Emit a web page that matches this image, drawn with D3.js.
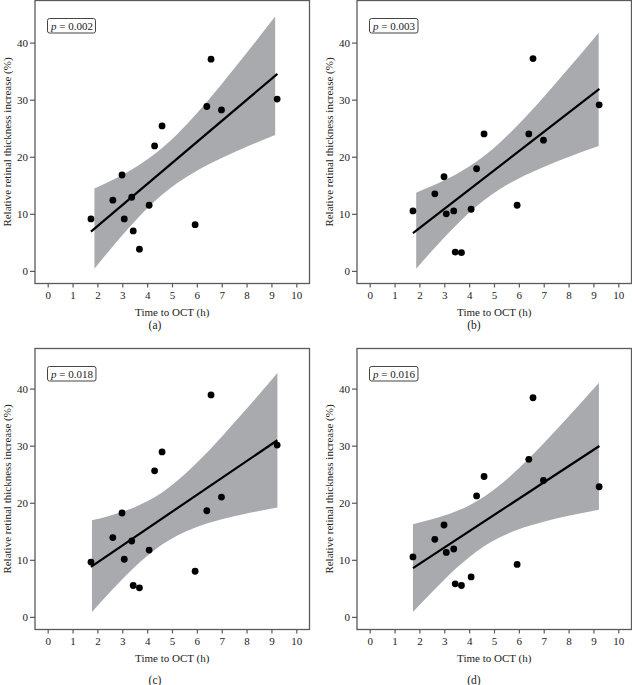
<!DOCTYPE html>
<html>
<head>
<meta charset="utf-8">
<script src="https://cdn.jsdelivr.net/npm/d3@7"></script>
<style>
  html, body { margin: 0; padding: 0; background: #fff; }
  svg { display: block; }
  text { font-family: "Liberation Serif", "Times New Roman", serif; fill: #222; }
</style>
</head>
<body>
<svg id="chart" width="632" height="685"></svg>
<script>
// ---- data ----
const timeToOCT = [1.74, 2.62, 2.99, 3.08, 3.38, 3.44, 3.69, 4.08, 4.30, 4.60, 5.93, 6.40, 6.57, 6.99, 9.23];
const increaseA = [9.1, 12.4, 16.8, 9.1, 12.9, 7.0, 3.8, 11.5, 21.9, 25.4, 8.1, 28.8, 37.1, 28.2, 30.1];
const increaseB = [10.5, 13.5, 16.5, 10.0, 10.5, 3.3, 3.2, 10.8, 17.9, 24.0, 11.5, 24.0, 37.2, 22.9, 29.1];
const increaseC = [9.6, 13.9, 18.2, 10.1, 13.3, 5.5, 5.1, 11.7, 25.6, 28.9, 8.0, 18.6, 38.9, 21.0, 30.1];
const increaseD = [10.5, 13.6, 16.1, 11.3, 11.9, 5.8, 5.5, 7.0, 21.2, 24.6, 9.2, 27.6, 38.4, 23.9, 22.8];

// fitted line end points (x, then y per panel)
const fitX = [1.74, 9.24];
const fitA = [6.88, 34.53];
const fitB = [6.61, 31.90];
const fitC = [8.78, 30.95];
const fitD = [8.55, 29.95];

// confidence band outline
const bandXA = [1.88, 2.5, 3, 3.5, 4, 4.6, 5.2, 6, 7, 8, 9.15];
const bandUpA = [14.42, 15.70, 16.82, 18.07, 19.50, 21.52, 23.92, 27.62, 32.76, 38.17, 44.57];
const bandLoA = [0.38, 3.68, 6.24, 8.67, 10.93, 13.33, 15.35, 17.55, 19.79, 21.74, 23.82];

const bandXB = [1.87, 2.5, 3, 3.5, 4, 4.6, 5.2, 6, 7, 8, 9.21];
const bandUpB = [13.71, 14.86, 15.87, 16.99, 18.29, 20.13, 22.33, 25.74, 30.49, 35.50, 41.73];
const bandLoB = [0.39, 3.49, 5.85, 8.10, 10.18, 12.38, 14.23, 16.21, 18.21, 19.95, 21.87];

const bandXC = [1.78, 2.5, 3, 3.5, 4, 4.6, 5.2, 6, 7, 8, 9.24];
const bandUpC = [16.93, 17.74, 18.42, 19.23, 20.25, 21.81, 23.79, 27.00, 31.57, 36.46, 42.73];
const bandLoC = [0.87, 4.32, 6.60, 8.74, 10.68, 12.67, 14.23, 15.75, 17.09, 18.11, 19.17];

const bandXD = [1.74, 2.5, 3, 3.5, 4, 4.6, 5.2, 6, 7, 8, 9.22];
const bandUpD = [16.24, 17.09, 17.75, 18.55, 19.54, 21.05, 22.96, 26.04, 30.43, 35.12, 41.03];
const bandLoD = [0.86, 4.34, 6.53, 8.59, 10.46, 12.37, 13.88, 15.37, 16.69, 17.71, 18.76];

const pValues = ["0.002", "0.003", "0.018", "0.016"];
const captions = ["(a)", "(b)", "(c)", "(d)"];
const xTicks = [0, 1, 2, 3, 4, 5, 6, 7, 8, 9, 10];
const yTicks = [0, 10, 20, 30, 40];
const xTitle = "Time to OCT (h)";
const yTitle = "Relative retinal thickness increase (%)";

// ---- layout ----
const colLeft = [35, 357];
const frameW = 274.5;
const rowTop = [0.5, 348.5];
const rowBottom = [283.5, 629.5];
const captionY = [329, 684];
const colCenter = [155, 474];

const panels = [
  {y: increaseA, fit: fitA, bx: bandXA, up: bandUpA, lo: bandLoA},
  {y: increaseB, fit: fitB, bx: bandXB, up: bandUpB, lo: bandLoB},
  {y: increaseC, fit: fitC, bx: bandXC, up: bandUpC, lo: bandLoC},
  {y: increaseD, fit: fitD, bx: bandXD, up: bandUpD, lo: bandLoD}
];

const svg = d3.select("#chart");
const frameColor = "#5a5a5a";

panels.forEach((p, i) => {
  const col = i % 2, row = Math.floor(i / 2);
  const L = colLeft[col], R = L + frameW;
  const T = rowTop[row], B = rowBottom[row];

  const x = d3.scaleLinear().domain([0, 10]).range([L + 12.7, L + 261.3]);
  const y = d3.scaleLinear().domain([0, 40]).range([B - 12.6, B - 240.9]);

  const g = svg.append("g");

  // confidence band
  const bandData = p.bx.map((bx, k) => ({x: bx, lo: p.lo[k], up: p.up[k]}));
  g.append("path")
    .datum(bandData)
    .attr("d", d3.area()
      .x(d => x(d.x))
      .y0(d => y(d.lo))
      .y1(d => y(d.up))
      .curve(d3.curveMonotoneX))
    .attr("fill", "#a8aaad");

  // regression line
  g.append("path")
    .datum(fitX.map((fx, k) => ({x: fx, y: p.fit[k]})))
    .attr("d", d3.line().x(d => x(d.x)).y(d => y(d.y)))
    .attr("stroke", "#000")
    .attr("stroke-width", 2.2)
    .attr("fill", "none");

  // points
  g.selectAll("circle.pt")
    .data(timeToOCT.map((t, k) => ({x: t, y: p.y[k]})))
    .join("circle")
    .attr("class", "pt")
    .attr("cx", d => x(d.x))
    .attr("cy", d => y(d.y))
    .attr("r", 3.4)
    .attr("fill", "#000");

  // frame
  g.append("rect")
    .attr("x", L).attr("y", T)
    .attr("width", R - L).attr("height", B - T)
    .attr("fill", "none")
    .attr("stroke", frameColor)
    .attr("stroke-width", 1.3);

  // axes
  const xAxis = g.append("g")
    .attr("transform", `translate(0,${B})`)
    .call(d3.axisBottom(x).tickValues(xTicks).tickSize(4).tickPadding(4).tickFormat(d3.format("d")));
  const yAxis = g.append("g")
    .attr("transform", `translate(${L},0)`)
    .call(d3.axisLeft(y).tickValues(yTicks).tickSize(5).tickPadding(2).tickFormat(d3.format("d")));
  [xAxis, yAxis].forEach(a => {
    a.select(".domain").remove();
    a.selectAll(".tick line").attr("stroke", frameColor).attr("stroke-width", 1.2);
    a.selectAll(".tick text")
      .attr("font-family", "'Liberation Serif', 'Times New Roman', serif")
      .attr("font-size", 11)
      .attr("fill", "#222");
  });

  // axis titles
  g.append("text")
    .attr("x", (L + R) / 2)
    .attr("y", B + 32)
    .attr("text-anchor", "middle")
    .attr("font-size", 11)
    .text(xTitle);

  g.append("text")
    .attr("transform", `translate(${L - 24},${(T + B) / 2}) rotate(-90)`)
    .attr("text-anchor", "middle")
    .attr("font-size", 11)
    .text(yTitle);

  // p-value box
  const pg = g.append("g");
  const box = pg.append("rect");
  const pt = pg.append("text")
    .attr("x", L + 16)
    .attr("y", T + 29.5)
    .attr("font-size", 11);
  pt.append("tspan").attr("font-style", "italic").text("p");
  pt.append("tspan").text(" = " + pValues[i]);
  const bb = pt.node().getBBox();
  box
    .attr("x", bb.x - 2.5)
    .attr("y", T + 18)
    .attr("width", bb.width + 5)
    .attr("height", 14.5)
    .attr("rx", 2)
    .attr("fill", "#fff")
    .attr("stroke", "#444")
    .attr("stroke-width", 1);

  // caption
  svg.append("text")
    .attr("x", colCenter[col])
    .attr("y", captionY[row])
    .attr("text-anchor", "middle")
    .attr("font-size", 11.5)
    .text(captions[i]);
});
</script>
</body>
</html>
